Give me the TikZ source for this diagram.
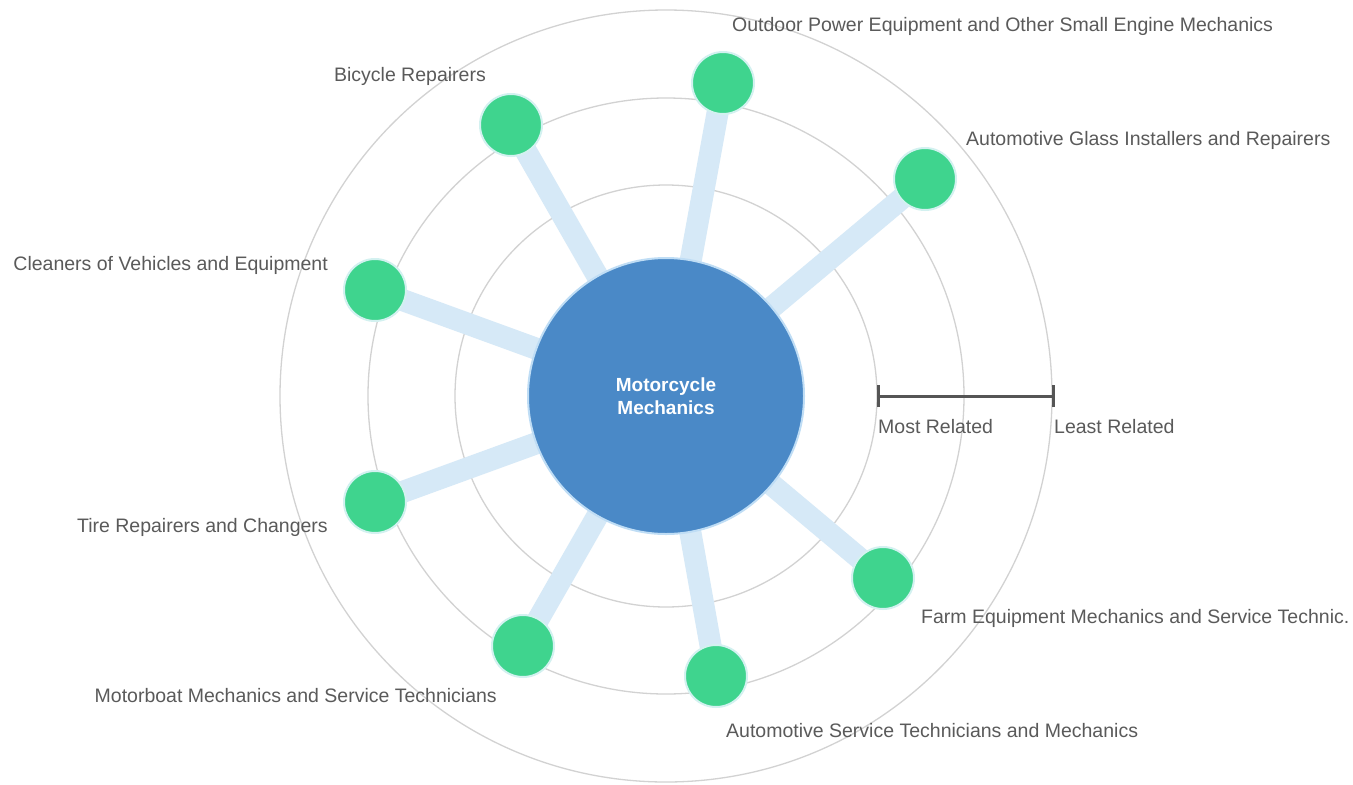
\documentclass[tikz,border=0pt]{standalone}
\usepackage{fontspec}
\setmainfont{Liberation Sans}
\begin{document}
\begin{tikzpicture}[x=1pt,y=-1pt,
  ring/.style={draw=ringgray,line width=1.3pt},
  edge/.style={draw=edgeblue,line width=22pt},
  job/.style={circle,fill=jobgreen,draw=jobrim,line width=2pt,minimum size=62pt,inner sep=0pt},
  hub/.style={circle,fill=hubblue,draw=hubrim,line width=2pt,minimum size=276pt,inner sep=0pt,
    text=white,font=\fontsize{19}{23}\selectfont\bfseries,align=center},
  lbl/.style={text=labelgray,font=\fontsize{19.5}{23}\selectfont,inner sep=0pt},
  scalebar/.style={draw=bargray,line width=3pt}
]
\definecolor{ringgray}{HTML}{D2D2D2}
\definecolor{edgeblue}{HTML}{D6E9F7}
\definecolor{jobgreen}{HTML}{3FD48E}
\definecolor{jobrim}{HTML}{D3F1F0}
\definecolor{hubblue}{HTML}{4A89C7}
\definecolor{hubrim}{HTML}{BFDDF5}
\definecolor{labelgray}{HTML}{5A5A5A}
\definecolor{bargray}{HTML}{555555}
\useasboundingbox[fill=white] (0,0) rectangle (1353,785);
\coordinate (o) at (666,396);
\draw[ring] (o) circle[radius=386];
\draw[ring] (o) circle[radius=298];
\draw[ring] (o) circle[radius=211];
% job nodes positions
\coordinate (pb) at (511,125);
\coordinate (po) at (723,83);
\coordinate (pg) at (925,179);
\coordinate (pc) at (375,290);
\coordinate (pt) at (375,502);
\coordinate (pm) at (523,646);
\coordinate (ps) at (716,676);
\coordinate (pf) at (883,578);
\foreach \p in {pb,po,pg,pc,pt,pm,ps,pf}{\draw[edge] (o) -- (\p);}
\node[hub] (hub) at (o) {Motorcycle\\Mechanics};
\node[job] (nb) at (pb) {};
\node[job] (no) at (po) {};
\node[job] (ng) at (pg) {};
\node[job] (nc) at (pc) {};
\node[job] (nt) at (pt) {};
\node[job] (nm) at (pm) {};
\node[job] (ns) at (ps) {};
\node[job] (nf) at (pf) {};
% labels
\node[lbl,anchor=east] (lb) at (486,76) {Bicycle Repairers};
\node[lbl,anchor=west] (lo) at (732,26) {Outdoor Power Equipment and Other Small Engine Mechanics};
\node[lbl,anchor=west] (lg) at (966,140) {Automotive Glass Installers and Repairers};
\node[lbl,anchor=east] (lc) at (328,265) {Cleaners of Vehicles and Equipment};
\node[lbl,anchor=east] (lt) at (328,527) {Tire Repairers and Changers};
\node[lbl,anchor=east] (lm) at (497,696) {Motorboat Mechanics and Service Technicians};
\node[lbl,anchor=west] (ls) at (726,731) {Automotive Service Technicians and Mechanics};
\node[lbl,anchor=west] (lf) at (921,618) {Farm Equipment Mechanics and Service Technic.};
% scale bar
\coordinate (sa) at (878,396);
\coordinate (sb) at (1053,396);
\draw[scalebar] (sa) -- (sb);
\draw[scalebar] ([yshift=-11pt]sa) -- ([yshift=11pt]sa);
\draw[scalebar] ([yshift=-11pt]sb) -- ([yshift=11pt]sb);
\node[lbl,anchor=west] (lmost) at (878,427) {Most Related};
\node[lbl,anchor=west] (lleast) at (1054,427) {Least Related};
\end{tikzpicture}
\end{document}
